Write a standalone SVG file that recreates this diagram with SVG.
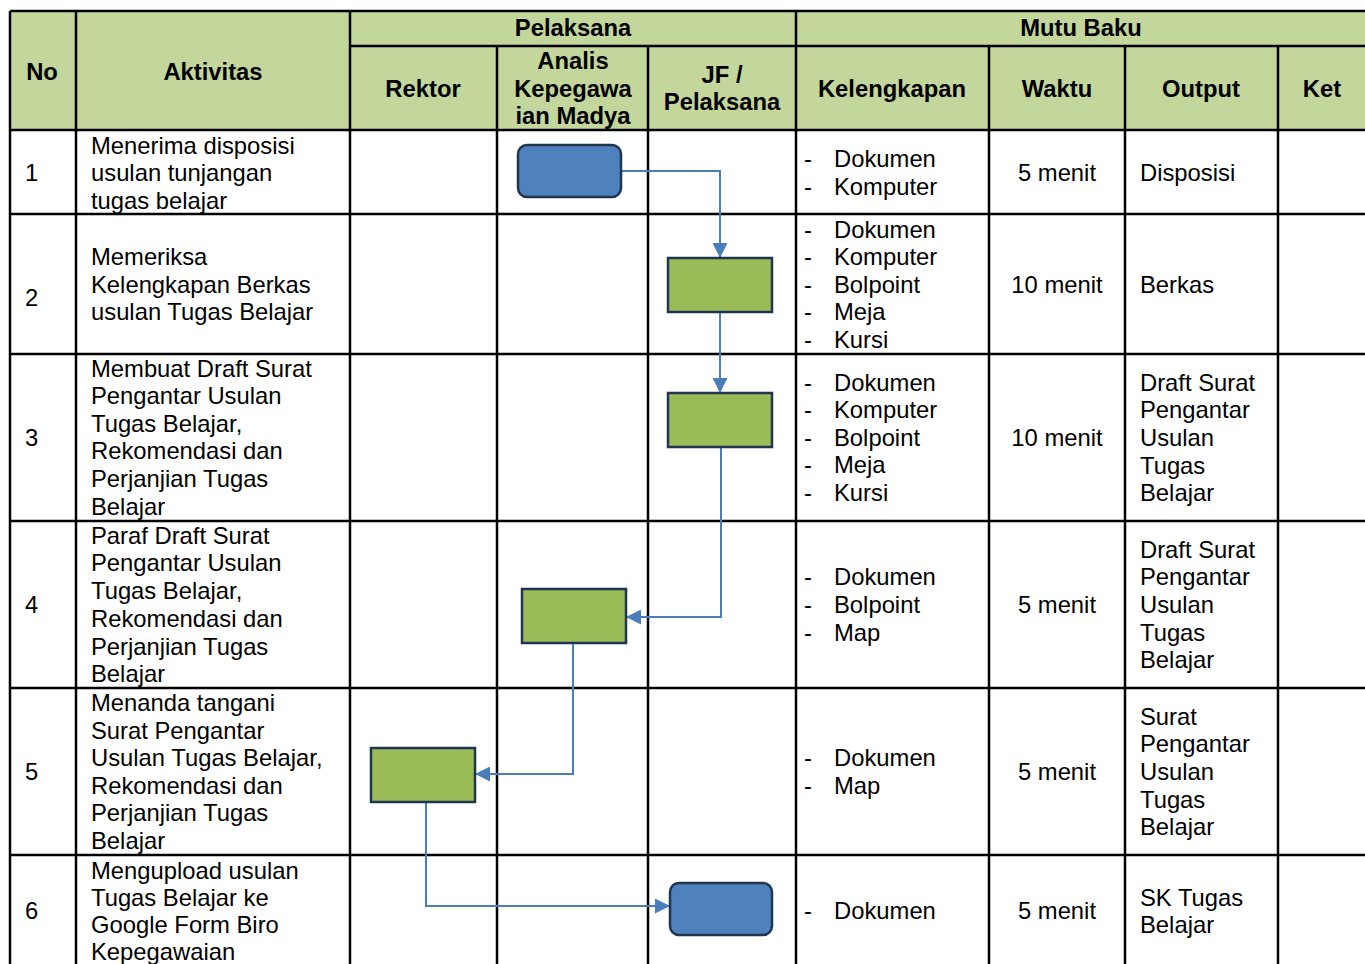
<svg xmlns="http://www.w3.org/2000/svg" width="1365" height="964" viewBox="0 0 1365 964">
<defs>
<style>
.t{font-family:"Liberation Sans",Arial,sans-serif;font-size:23.8px;fill:#000}
.h{font-family:"Liberation Sans",Arial,sans-serif;font-size:23.8px;font-weight:bold;fill:#000;text-anchor:middle}
.c{text-anchor:middle}
.g{stroke:#000;stroke-width:2.5;fill:none}
.proc{fill:#9bbb59;stroke:#1f3550;stroke-width:2.5}
.term{fill:#4f81bd;stroke:#1f3550;stroke-width:2.5}
.conn{fill:none;stroke:#4a7ebb;stroke-width:2}
</style>
<marker id="arr" viewBox="0 0 10 10" refX="10" refY="5" markerWidth="7.5" markerHeight="7.5" markerUnits="strokeWidth" orient="auto">
<path d="M0,0 L10,5 L0,10 Z" fill="#4a7ebb"/>
</marker>
</defs>
<rect x="0" y="0" width="1365" height="964" fill="#fff"/>
<g id="header">
<rect x="10" y="11" width="1360" height="119" fill="#c3d69b"/>
<text class="h" x="42" y="80">No</text>
<text class="h" x="213" y="80">Aktivitas</text>
<text class="h" x="573" y="36">Pelaksana</text>
<text class="h" x="1081" y="36">Mutu Baku</text>
<text class="h" x="423" y="97">Rektor</text>
<text class="h" x="573" y="69">Analis</text>
<text class="h" x="573" y="97">Kepegawa</text>
<text class="h" x="573" y="124">ian Madya</text>
<text class="h" x="722" y="83">JF /</text>
<text class="h" x="722" y="110">Pelaksana</text>
<text class="h" x="892" y="97">Kelengkapan</text>
<text class="h" x="1057" y="97">Waktu</text>
<text class="h" x="1201" y="97">Output</text>
<text class="h" x="1322" y="97">Ket</text>
</g>
<g id="grid" class="g">
<path d="M10,11 H1370"/>
<path d="M350,46 H1370"/>
<path d="M10,130 H1370"/>
<path d="M10,214 H1370"/>
<path d="M10,354 H1370"/>
<path d="M10,521 H1370"/>
<path d="M10,688 H1370"/>
<path d="M10,855 H1370"/>
<path d="M10,11 V970"/>
<path d="M76,11 V970"/>
<path d="M350,11 V970"/>
<path d="M497,46 V970"/>
<path d="M648,46 V970"/>
<path d="M796,11 V970"/>
<path d="M989,46 V970"/>
<path d="M1125,46 V970"/>
<path d="M1278,46 V970"/>
</g>
<g id="row1" class="t">
<text x="25" y="181">1</text>
<text x="91" y="154">Menerima disposisi</text>
<text x="91" y="181">usulan tunjangan</text>
<text x="91" y="209">tugas belajar</text>
<text x="804" y="167">-</text><text x="834" y="167">Dokumen</text>
<text x="804" y="195">-</text><text x="834" y="195">Komputer</text>
<text class="c" x="1057" y="181">5 menit</text>
<text x="1140" y="181">Disposisi</text>
</g>
<g id="row2" class="t">
<text x="25" y="306">2</text>
<text x="91" y="265">Memeriksa</text>
<text x="91" y="293">Kelengkapan Berkas</text>
<text x="91" y="320">usulan Tugas Belajar</text>
<text x="804" y="238">-</text><text x="834" y="238">Dokumen</text>
<text x="804" y="265">-</text><text x="834" y="265">Komputer</text>
<text x="804" y="293">-</text><text x="834" y="293">Bolpoint</text>
<text x="804" y="320">-</text><text x="834" y="320">Meja</text>
<text x="804" y="348">-</text><text x="834" y="348">Kursi</text>
<text class="c" x="1057" y="293">10 menit</text>
<text x="1140" y="293">Berkas</text>
</g>
<g id="row3" class="t">
<text x="25" y="446">3</text>
<text x="91" y="377">Membuat Draft Surat</text>
<text x="91" y="404">Pengantar Usulan</text>
<text x="91" y="432">Tugas Belajar,</text>
<text x="91" y="459">Rekomendasi dan</text>
<text x="91" y="487">Perjanjian Tugas</text>
<text x="91" y="515">Belajar</text>
<text x="804" y="391">-</text><text x="834" y="391">Dokumen</text>
<text x="804" y="418">-</text><text x="834" y="418">Komputer</text>
<text x="804" y="446">-</text><text x="834" y="446">Bolpoint</text>
<text x="804" y="473">-</text><text x="834" y="473">Meja</text>
<text x="804" y="501">-</text><text x="834" y="501">Kursi</text>
<text class="c" x="1057" y="446">10 menit</text>
<text x="1140" y="391">Draft Surat</text>
<text x="1140" y="418">Pengantar</text>
<text x="1140" y="446">Usulan</text>
<text x="1140" y="474">Tugas</text>
<text x="1140" y="501">Belajar</text>
</g>
<g id="row4" class="t">
<text x="25" y="613">4</text>
<text x="91" y="544">Paraf Draft Surat</text>
<text x="91" y="571">Pengantar Usulan</text>
<text x="91" y="599">Tugas Belajar,</text>
<text x="91" y="627">Rekomendasi dan</text>
<text x="91" y="655">Perjanjian Tugas</text>
<text x="91" y="682">Belajar</text>
<text x="804" y="585">-</text><text x="834" y="585">Dokumen</text>
<text x="804" y="613">-</text><text x="834" y="613">Bolpoint</text>
<text x="804" y="641">-</text><text x="834" y="641">Map</text>
<text class="c" x="1057" y="613">5 menit</text>
<text x="1140" y="558">Draft Surat</text>
<text x="1140" y="585">Pengantar</text>
<text x="1140" y="613">Usulan</text>
<text x="1140" y="641">Tugas</text>
<text x="1140" y="668">Belajar</text>
</g>
<g id="row5" class="t">
<text x="25" y="780">5</text>
<text x="91" y="711">Menanda tangani</text>
<text x="91" y="739">Surat Pengantar</text>
<text x="91" y="766">Usulan Tugas Belajar,</text>
<text x="91" y="794">Rekomendasi dan</text>
<text x="91" y="821">Perjanjian Tugas</text>
<text x="91" y="849">Belajar</text>
<text x="804" y="766">-</text><text x="834" y="766">Dokumen</text>
<text x="804" y="794">-</text><text x="834" y="794">Map</text>
<text class="c" x="1057" y="780">5 menit</text>
<text x="1140" y="725">Surat</text>
<text x="1140" y="752">Pengantar</text>
<text x="1140" y="780">Usulan</text>
<text x="1140" y="808">Tugas</text>
<text x="1140" y="835">Belajar</text>
</g>
<g id="row6" class="t">
<text x="25" y="919">6</text>
<text x="91" y="879">Mengupload usulan</text>
<text x="91" y="906">Tugas Belajar ke</text>
<text x="91" y="933">Google Form Biro</text>
<text x="91" y="960">Kepegawaian</text>
<text x="804" y="919">-</text><text x="834" y="919">Dokumen</text>
<text class="c" x="1057" y="919">5 menit</text>
<text x="1140" y="906">SK Tugas</text>
<text x="1140" y="933">Belajar</text>
</g>
<g id="connectors">
<path class="conn" d="M621,171 H720 V258" marker-end="url(#arr)"/>
<path class="conn" d="M720,312 V393" marker-end="url(#arr)"/>
<path class="conn" d="M721,447 V617 H626" marker-end="url(#arr)"/>
<path class="conn" d="M573,643 V774 H475" marker-end="url(#arr)"/>
<path class="conn" d="M426,802 V906 H670" marker-end="url(#arr)"/>
</g>
<g id="node1"><rect class="term" x="518" y="145" width="103" height="52" rx="9"/></g>
<g id="node2"><rect class="proc" x="668" y="258" width="104" height="54"/></g>
<g id="node3"><rect class="proc" x="668" y="393" width="104" height="54"/></g>
<g id="node4"><rect class="proc" x="522" y="589" width="104" height="54"/></g>
<g id="node5"><rect class="proc" x="371" y="748" width="104" height="54"/></g>
<g id="node6"><rect class="term" x="670" y="883" width="102" height="52" rx="9"/></g>
</svg>
